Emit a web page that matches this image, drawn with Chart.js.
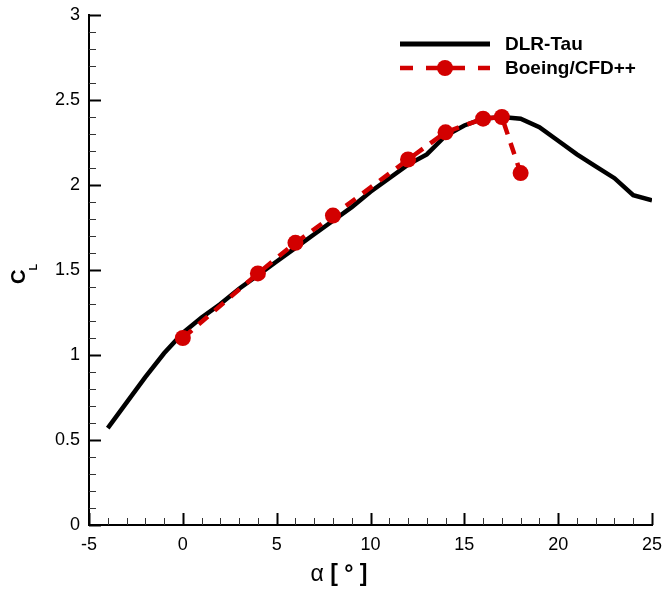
<!DOCTYPE html>
<html><head><meta charset="utf-8">
<script src="https://cdn.jsdelivr.net/npm/chart.js@4"></script>
<style>html,body{margin:0;padding:0;background:#fff}#wrap{width:664px;height:594px}</style>
</head><body><div id="wrap"><canvas id="c" width="664" height="594"></canvas></div>
<script>
// ---- data ----
const dlrAlpha = [-4,-3,-2,-1,0,1,2,3,4,5,6,7,8,9,10,11,12,13,14,15,16,17,18,19,20,21,22,23,24,25];
const dlrCL    = [0.57,0.72,0.87,1.01,1.13,1.22,1.30,1.39,1.47,1.55,1.63,1.71,1.79,1.87,1.96,2.04,2.12,2.18,2.29,2.35,2.39,2.40,2.39,2.34,2.26,2.18,2.11,2.04,1.94,1.91];
const boeingAlpha = [0,4,6,8,12,14,16,17,18];
const boeingCL    = [1.10,1.48,1.66,1.82,2.15,2.31,2.39,2.40,2.07];
const xTickLabels = ['-5','0','5','10','15','20','25'];
const yTickLabels = ['0','0.5','1','1.5','2','2.5','3'];
const xMinorStep = 1;
const yMinorStep = 0.1;
const seriesNames = ['DLR-Tau','Boeing/CFD++'];

const RED = 'rgb(210,0,0)';
const FONT = '"Liberation Sans", Arial, Helvetica, sans-serif';

const tickPlugin = {
  id: 'inwardTicks',
  beforeDatasetsDraw(chart) {
    const {ctx, chartArea: a, scales: {x, y}} = chart;
    ctx.save();
    const xs = xTickLabels.map(Number);
    const ys = yTickLabels.map(Number);
    for (let v = xs[0]; v <= xs[xs.length-1] + 1e-9; v += xMinorStep) {
      const major = xs.some(m => Math.abs(m - v) < 1e-6);
      const px = Math.round(x.getPixelForValue(v)) + 0.5;
      ctx.strokeStyle = major ? '#000' : '#333';
      ctx.lineWidth = major ? 2 : 1;
      ctx.beginPath(); ctx.moveTo(px, a.bottom); ctx.lineTo(px, a.bottom - (major ? 12 : 7)); ctx.stroke();
    }
    for (let v = ys[0]; v <= ys[ys.length-1] + 1e-9; v += yMinorStep) {
      const major = ys.some(m => Math.abs(m - v) < 1e-6);
      const py = Math.round(y.getPixelForValue(v)) + 0.5;
      ctx.strokeStyle = major ? '#000' : '#333';
      ctx.lineWidth = major ? 2 : 1;
      ctx.beginPath(); ctx.moveTo(a.left, py); ctx.lineTo(a.left + (major ? 12 : 7), py); ctx.stroke();
    }
    ctx.restore();
  },
  afterDraw(chart) {
    const {ctx} = chart;
    ctx.save();
    // legend
    const lx0 = 400, lx1 = 490, tx = 505;
    const ly = [44, 68];
    ctx.lineCap = 'butt';
    ctx.strokeStyle = '#000'; ctx.lineWidth = 5;
    ctx.beginPath(); ctx.moveTo(lx0, ly[0]); ctx.lineTo(lx1, ly[0]); ctx.stroke();
    ctx.strokeStyle = RED; ctx.lineWidth = 4.5; ctx.setLineDash([13, 13]);
    ctx.beginPath(); ctx.moveTo(lx0, ly[1]); ctx.lineTo(lx1, ly[1]); ctx.stroke();
    ctx.setLineDash([]);
    ctx.fillStyle = RED;
    ctx.beginPath(); ctx.arc((lx0 + lx1) / 2, ly[1], 8, 0, Math.PI * 2); ctx.fill();
    ctx.fillStyle = '#000';
    ctx.font = 'bold 19px ' + FONT;
    ctx.textAlign = 'left'; ctx.textBaseline = 'middle';
    ctx.fillText(seriesNames[0], tx, ly[0] + 1);
    ctx.fillText(seriesNames[1], tx, ly[1] + 1);

    // x title: α [ ° ]
    ctx.textBaseline = 'alphabetic';
    ctx.font = '23px ' + FONT;
    const p1 = 'α ';
    const w1 = ctx.measureText(p1).width;
    ctx.font = 'bold 23px ' + FONT;
    const p2 = '[ ° ]';
    const w2 = ctx.measureText(p2).width;
    let sx = 339 - (w1 + w2) / 2;
    ctx.font = '23px ' + FONT;
    ctx.fillText(p1, sx, 581);
    ctx.font = 'bold 23px ' + FONT;
    ctx.fillText(p2, sx + w1, 581);

    // y title: C_L rotated
    ctx.translate(25, 284);
    ctx.rotate(-Math.PI / 2);
    ctx.font = 'bold 20px ' + FONT;
    ctx.fillText('C', 0, 0);
    const cw = ctx.measureText('C').width;
    ctx.font = 'bold 11px ' + FONT;
    ctx.fillText('L', cw - 1, 12);
    ctx.restore();
  }
};

new Chart(document.getElementById('c'), {
  type: 'line',
  data: {
    datasets: [
      {
        label: seriesNames[1],
        data: boeingAlpha.map((a, i) => ({x: a, y: boeingCL[i]})),
        borderColor: RED, backgroundColor: RED,
        borderWidth: 4.5, borderDash: [12, 9],
        pointRadius: 8, pointBorderWidth: 0, pointBackgroundColor: RED,
        tension: 0, order: 0
      },
      {
        label: seriesNames[0],
        data: dlrAlpha.map((a, i) => ({x: a, y: dlrCL[i]})),
        borderColor: '#000', borderWidth: 4.5,
        pointRadius: 0, tension: 0, order: 1
      }
    ]
  },
  options: {
    responsive: false, animation: false,
    layout: {autoPadding: false, padding: {top: 15, right: 12, left: 0, bottom: 0}},
    plugins: {legend: {display: false}, tooltip: {enabled: false}},
    scales: {
      x: {
        type: 'linear', min: Number(xTickLabels[0]), max: Number(xTickLabels[xTickLabels.length-1]),
        afterBuildTicks: s => { s.ticks = xTickLabels.map(v => ({value: Number(v)})); },
        afterFit: s => { s.height = 69; s.paddingLeft = 0; s.paddingRight = 0; s.paddingTop = 0; s.paddingBottom = 0; },
        grid: {display: false, drawTicks: false},
        border: {display: true, color: '#000', width: 2},
        ticks: {padding: 9, color: '#000', font: {family: FONT, size: 18},
                callback: (v, i) => xTickLabels[i], maxRotation: 0, autoSkip: false}
      },
      y: {
        type: 'linear', min: Number(yTickLabels[0]), max: Number(yTickLabels[yTickLabels.length-1]),
        afterBuildTicks: s => { s.ticks = yTickLabels.map(v => ({value: Number(v)})); },
        afterFit: s => { s.width = 89; s.paddingLeft = 0; s.paddingRight = 0; s.paddingTop = 0; s.paddingBottom = 0; },
        grid: {display: false, drawTicks: false},
        border: {display: true, color: '#000', width: 2},
        ticks: {padding: 9, color: '#000', font: {family: FONT, size: 18},
                callback: (v, i) => yTickLabels[i], autoSkip: false}
      }
    }
  },
  plugins: [tickPlugin]
});
</script></body></html>
